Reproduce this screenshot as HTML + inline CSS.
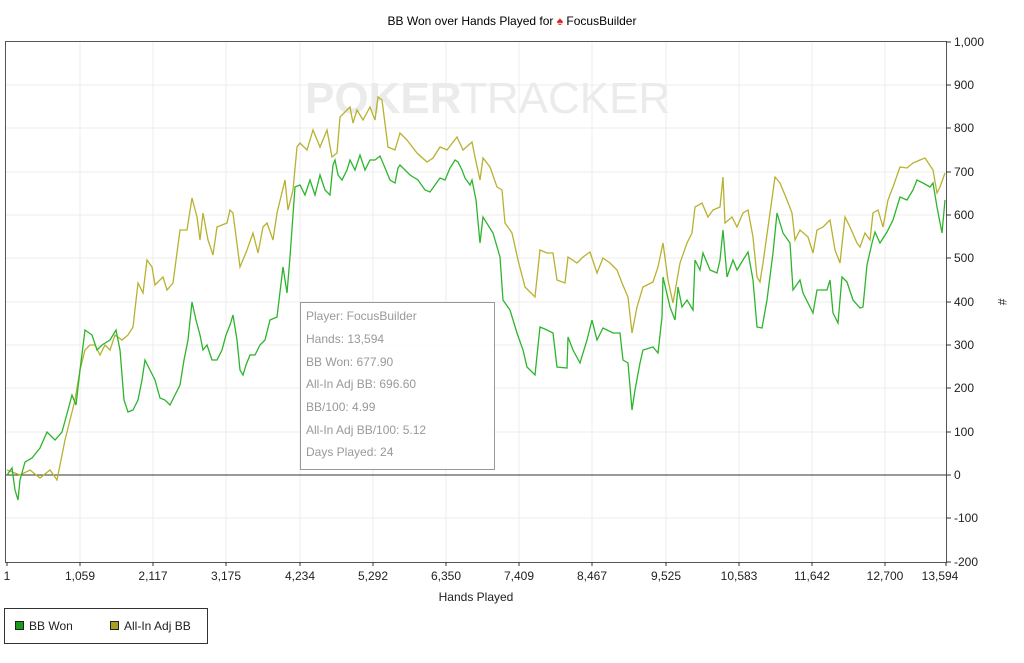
<!DOCTYPE html>
<html><head><meta charset="utf-8"><style>
body{margin:0;background:#fff;}
svg text{font-family:"Liberation Sans",sans-serif;}
</style></head><body>
<svg width="1024" height="658" xmlns="http://www.w3.org/2000/svg">
<rect width="1024" height="658" fill="#fff"/>
<text x="512" y="25" font-size="12" text-anchor="middle" fill="#000">BB Won over Hands Played for <tspan fill="#d22">♠</tspan> FocusBuilder</text>
<g stroke="#ececec" stroke-width="1">
<line x1="80" y1="42" x2="80" y2="562"/><line x1="153" y1="42" x2="153" y2="562"/><line x1="226" y1="42" x2="226" y2="562"/><line x1="300" y1="42" x2="300" y2="562"/><line x1="373" y1="42" x2="373" y2="562"/><line x1="446" y1="42" x2="446" y2="562"/><line x1="519" y1="42" x2="519" y2="562"/><line x1="592" y1="42" x2="592" y2="562"/><line x1="666" y1="42" x2="666" y2="562"/><line x1="739" y1="42" x2="739" y2="562"/><line x1="812" y1="42" x2="812" y2="562"/><line x1="885" y1="42" x2="885" y2="562"/>
<line x1="6" y1="85" x2="946" y2="85"/><line x1="6" y1="128" x2="946" y2="128"/><line x1="6" y1="172" x2="946" y2="172"/><line x1="6" y1="215" x2="946" y2="215"/><line x1="6" y1="258" x2="946" y2="258"/><line x1="6" y1="302" x2="946" y2="302"/><line x1="6" y1="345" x2="946" y2="345"/><line x1="6" y1="388" x2="946" y2="388"/><line x1="6" y1="432" x2="946" y2="432"/><line x1="6" y1="518" x2="946" y2="518"/>
</g>
<text x="305" y="113" font-size="44" font-weight="bold" fill="#ebebeb">POKER</text>
<text x="460" y="113" font-size="44" fill="#ebebeb">TRACKER</text>
<line x1="6" y1="475" x2="946" y2="475" stroke="#333" stroke-width="1"/>
<polyline fill="none" stroke="#b8b230" stroke-width="1.3" points="7,470 20,475 30,470 40,478 50,470 57,480 60,465 65,440 70,420 75,400 80,370 85,350 90,345 95,345 100,355 105,345 110,350 115,335 122,340 128,335 133,327 138,283 143,293 147,260 152,267 155,285 163,277 167,290 173,283 180,230 187,230 192,198 197,217 200,240 203,213 208,240 213,255 217,227 227,223 230,210 233,213 240,267 247,250 253,233 258,253 263,227 267,223 273,240 277,213 285,180 288,210 293,190 297,147 300,143 307,150 313,130 320,147 327,130 332,157 337,153 340,117 350,107 353,123 357,110 363,120 370,107 375,120 378,97 382,100 388,147 395,150 400,133 407,140 417,153 427,162 433,158 440,147 447,150 457,137 463,150 472,142 475,157 480,180 483,158 490,167 497,187 502,190 505,223 512,233 518,260 525,287 535,297 540,250 547,253 553,253 557,280 565,283 568,257 577,263 583,257 590,252 597,273 603,258 610,263 617,270 622,283 628,297 632,333 637,307 643,287 653,282 658,267 663,243 668,280 673,303 680,263 687,243 692,233 695,207 702,203 708,217 713,210 720,207 723,177 725,223 732,217 737,227 743,213 748,210 753,237 757,277 760,282 763,263 770,213 775,177 780,183 787,200 792,213 795,240 800,230 808,237 813,253 817,230 823,227 830,220 835,250 840,263 845,217 850,227 857,243 860,247 865,233 870,240 873,213 878,210 883,227 888,200 893,187 900,167 907,168 913,163 920,160 925,158 933,170 937,193 940,187 945,173"/>
<polyline fill="none" stroke="#2db52d" stroke-width="1.3" points="7,475 12,468 15,490 18,500 20,480 25,462 32,458 40,448 47,432 55,440 62,432 68,410 72,395 76,405 80,370 85,330 92,335 97,350 102,345 110,340 116,330 120,350 124,400 128,412 133,410 138,400 142,380 145,360 150,370 155,380 160,398 165,400 170,405 175,395 180,385 184,360 188,340 192,302 196,320 200,335 203,350 207,345 212,360 217,360 222,350 226,335 230,325 233,315 237,340 240,370 243,375 246,365 250,355 255,355 260,345 265,340 270,320 277,317 283,267 287,293 290,257 295,187 300,185 305,195 310,180 315,195 320,175 325,190 330,195 333,165 335,160 338,175 342,180 347,170 350,160 355,170 360,155 365,170 370,160 375,160 380,156 388,175 390,180 395,183 398,168 400,165 410,175 418,180 425,190 430,192 435,185 440,178 445,180 450,168 455,160 458,162 462,170 465,178 470,185 472,180 476,200 480,243 483,217 493,233 500,257 503,300 510,310 517,333 523,350 527,367 535,375 540,327 547,330 553,333 557,367 567,368 568,337 573,350 580,363 587,340 592,320 597,340 603,328 613,333 620,333 623,360 628,363 632,410 635,390 640,363 643,350 653,347 658,353 662,317 663,277 670,307 675,320 678,287 682,307 687,300 693,310 695,260 700,270 703,253 710,270 717,273 720,260 723,230 727,277 733,260 737,270 743,260 748,252 753,280 757,327 762,328 767,300 773,253 777,213 783,233 790,243 793,290 800,280 803,293 813,313 817,290 827,290 830,280 833,313 838,323 842,277 847,282 853,300 860,308 863,307 867,265 872,243 875,232 880,243 887,232 893,220 900,197 907,200 913,190 917,180 923,183 930,187 933,183 937,207 942,233 945,200"/>
<rect x="300.5" y="302.5" width="194" height="167" fill="#fff" fill-opacity="0.85" stroke="#999"/>
<g font-size="12" fill="#999">
<text x="306" y="320">Player: FocusBuilder</text><text x="306" y="343">Hands: 13,594</text><text x="306" y="366">BB Won: 677.90</text><text x="306" y="388">All-In Adj BB: 696.60</text><text x="306" y="411">BB/100: 4.99</text><text x="306" y="434">All-In Adj BB/100: 5.12</text><text x="306" y="456">Days Played: 24</text>
</g>
<rect x="5.5" y="41.5" width="941" height="521" fill="none" stroke="#555"/>
<g stroke="#333"><line x1="946" y1="42" x2="951" y2="42"/><line x1="946" y1="85" x2="951" y2="85"/><line x1="946" y1="128" x2="951" y2="128"/><line x1="946" y1="172" x2="951" y2="172"/><line x1="946" y1="215" x2="951" y2="215"/><line x1="946" y1="258" x2="951" y2="258"/><line x1="946" y1="302" x2="951" y2="302"/><line x1="946" y1="345" x2="951" y2="345"/><line x1="946" y1="388" x2="951" y2="388"/><line x1="946" y1="432" x2="951" y2="432"/><line x1="946" y1="475" x2="951" y2="475"/><line x1="946" y1="518" x2="951" y2="518"/><line x1="946" y1="562" x2="951" y2="562"/>
<line x1="7" y1="562" x2="7" y2="566"/><line x1="80" y1="562" x2="80" y2="566"/><line x1="153" y1="562" x2="153" y2="566"/><line x1="226" y1="562" x2="226" y2="566"/><line x1="300" y1="562" x2="300" y2="566"/><line x1="373" y1="562" x2="373" y2="566"/><line x1="446" y1="562" x2="446" y2="566"/><line x1="519" y1="562" x2="519" y2="566"/><line x1="592" y1="562" x2="592" y2="566"/><line x1="666" y1="562" x2="666" y2="566"/><line x1="739" y1="562" x2="739" y2="566"/><line x1="812" y1="562" x2="812" y2="566"/><line x1="885" y1="562" x2="885" y2="566"/><line x1="946" y1="562" x2="946" y2="566"/></g>
<g font-size="12" fill="#222">
<text x="954" y="46">1,000</text><text x="954" y="89">900</text><text x="954" y="132">800</text><text x="954" y="176">700</text><text x="954" y="219">600</text><text x="954" y="262">500</text><text x="954" y="306">400</text><text x="954" y="349">300</text><text x="954" y="392">200</text><text x="954" y="436">100</text><text x="954" y="479">0</text><text x="954" y="522">-100</text><text x="954" y="566">-200</text>
<g text-anchor="middle"><text x="7" y="580">1</text><text x="80" y="580">1,059</text><text x="153" y="580">2,117</text><text x="226" y="580">3,175</text><text x="300" y="580">4,234</text><text x="373" y="580">5,292</text><text x="446" y="580">6,350</text><text x="519" y="580">7,409</text><text x="592" y="580">8,467</text><text x="666" y="580">9,525</text><text x="739" y="580">10,583</text><text x="812" y="580">11,642</text><text x="885" y="580">12,700</text><text x="940" y="580">13,594</text>
<text x="476" y="601">Hands Played</text></g>
<text x="998" y="302" transform="rotate(90 998 302)" text-anchor="middle">#</text>
</g>
<rect x="4.5" y="608.5" width="203" height="35" fill="#fff" stroke="#333"/>
<rect x="15.5" y="621.5" width="8" height="8" fill="#1a9c1a" stroke="#222"/>
<text x="29" y="630" font-size="12" fill="#222">BB Won</text>
<rect x="110.5" y="621.5" width="8" height="8" fill="#a8a020" stroke="#222"/>
<text x="124" y="630" font-size="12" fill="#222">All-In Adj BB</text>
</svg>
</body></html>
